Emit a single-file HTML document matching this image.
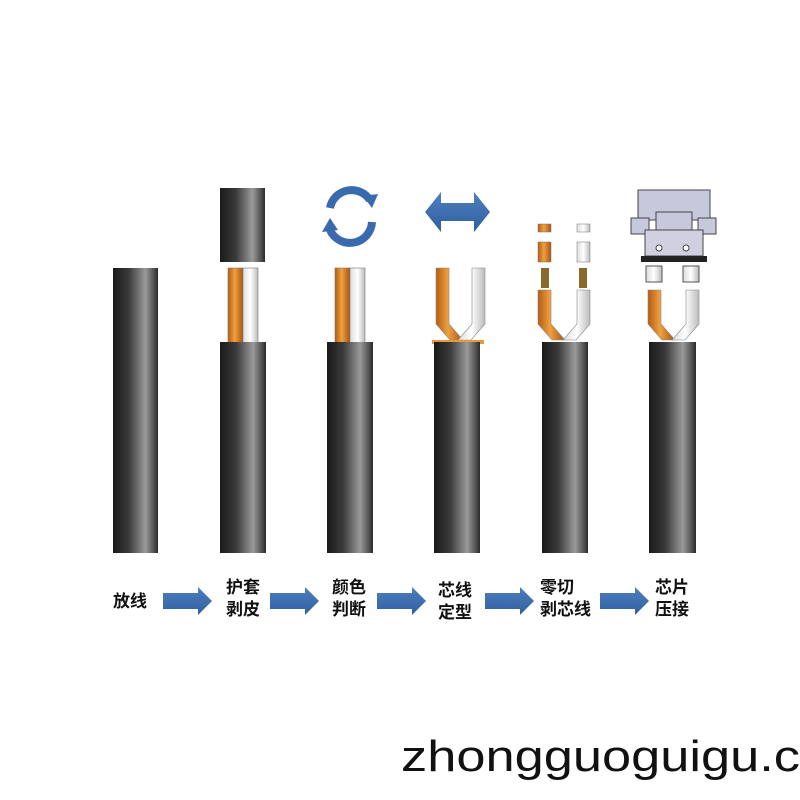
<!DOCTYPE html>
<html><head><meta charset="utf-8">
<style>
html,body{margin:0;padding:0;background:#fff;}
svg{display:block;}
.lbl{font-family:"Liberation Sans","Noto Sans CJK SC",sans-serif;font-weight:bold;font-size:17px;fill:#111;}
</style></head><body>
<svg width="800" height="800" viewBox="0 0 800 800" xmlns="http://www.w3.org/2000/svg">
<defs>
<linearGradient id="blk" x1="0" x2="1" y1="0" y2="0">
<stop offset="0" stop-color="#1a1a1a"/><stop offset="0.35" stop-color="#3a3a3a"/><stop offset="0.72" stop-color="#9a9a9a"/><stop offset="0.9" stop-color="#555"/><stop offset="1" stop-color="#2a2a2a"/>
</linearGradient>
<linearGradient id="org" x1="0" x2="1">
<stop offset="0" stop-color="#b45c10"/><stop offset="0.45" stop-color="#f0a040"/><stop offset="1" stop-color="#a85410"/>
</linearGradient>
<linearGradient id="wht" x1="0" x2="1">
<stop offset="0" stop-color="#ddd"/><stop offset="0.5" stop-color="#fff"/><stop offset="1" stop-color="#bbb"/>
</linearGradient>
<linearGradient id="blu" x1="0" x2="0" y1="0" y2="1">
<stop offset="0" stop-color="#4f7fbf"/><stop offset="1" stop-color="#2f5f9f"/>
</linearGradient>
</defs>

<rect x="113" y="268" width="45" height="285" fill="url(#blk)"/>

<rect x="220" y="188" width="45" height="74" fill="url(#blk)"/>
<rect x="228" y="268" width="15" height="76" fill="url(#org)" stroke="#777" stroke-width="0.6"/>
<rect x="243" y="268" width="15" height="76" fill="url(#wht)" stroke="#777" stroke-width="0.6"/>
<rect x="220" y="342" width="46" height="211" fill="url(#blk)"/>

<path d="M330 208 A22 22 0 0 1 370 200" fill="none" stroke="#3a6aae" stroke-width="8"/>
<polygon points="363,196 378,194 372,208" fill="#3a6aae"/>
<path d="M372 222 A22 22 0 0 1 330 230" fill="none" stroke="#3a6aae" stroke-width="8"/>
<polygon points="322,232 330,218 338,230" fill="#3a6aae"/>
<rect x="335" y="268" width="15" height="76" fill="url(#org)" stroke="#777" stroke-width="0.6"/>
<rect x="350" y="268" width="15" height="76" fill="url(#wht)" stroke="#777" stroke-width="0.6"/>
<rect x="327" y="342" width="46" height="211" fill="url(#blk)"/>

<polygon points="425,212 441,192 441,203 474,203 474,192 490,212 474,232 474,221 441,221 441,232" fill="url(#blu)"/>

<path d="M436 268 h13 v56 l14 16 h-13 l-14 -16 z" fill="url(#org)" stroke="#888" stroke-width="0.6"/>
<path d="M472 268 h13 v56 l-14 16 h-13 l14 -16 z" fill="url(#wht)" stroke="#888" stroke-width="0.6"/>
<rect x="432" y="340" width="52" height="4" fill="#e89a3a"/>
<rect x="434" y="342" width="46" height="211" fill="url(#blk)"/>

<rect x="538" y="224" width="13" height="8" fill="url(#org)" stroke="#777" stroke-width="0.5"/>
<rect x="577" y="224" width="13" height="8" fill="url(#wht)" stroke="#777" stroke-width="0.5"/>
<rect x="538" y="242" width="13" height="20" fill="url(#org)" stroke="#777" stroke-width="0.5"/>
<rect x="577" y="242" width="13" height="20" fill="url(#wht)" stroke="#777" stroke-width="0.5"/>
<rect x="541" y="268" width="8" height="20" fill="#8a6a2a"/>
<rect x="579" y="268" width="8" height="20" fill="#8a6a2a"/>
<path d="M538 290 h13 v34 l14 16 h-13 l-14 -16 z" fill="url(#org)" stroke="#888" stroke-width="0.6"/>
<path d="M577 290 h13 v34 l-14 16 h-13 l14 -16 z" fill="url(#wht)" stroke="#888" stroke-width="0.6"/>
<rect x="542" y="342" width="46" height="211" fill="url(#blk)"/>

<rect x="638" y="190" width="72" height="30" fill="#c8c8dc" stroke="#444" stroke-width="1"/>
<rect x="656" y="212" width="36" height="40" fill="#c8c8dc" stroke="#444" stroke-width="1"/>
<rect x="631" y="218" width="18" height="16" fill="#c8c8dc" stroke="#444"/>
<rect x="698" y="218" width="18" height="16" fill="#c8c8dc" stroke="#444"/>
<rect x="645" y="230" width="58" height="26" fill="#d0d0e0" stroke="#444"/>
<circle cx="659" cy="248" r="3" fill="#fff" stroke="#444"/>
<circle cx="686" cy="248" r="3" fill="#fff" stroke="#444"/>
<rect x="641" y="256" width="66" height="6" fill="#222"/>
<rect x="646" y="266" width="16" height="16" fill="url(#wht)" stroke="#555"/>
<rect x="683" y="266" width="16" height="16" fill="url(#wht)" stroke="#555"/>
<path d="M648 290 h13 v34 l14 16 h-13 l-14 -16 z" fill="url(#org)" stroke="#888" stroke-width="0.6"/>
<path d="M686 290 h13 v34 l-14 16 h-13 l14 -16 z" fill="url(#wht)" stroke="#888" stroke-width="0.6"/>
<rect x="649" y="342" width="47" height="211" fill="url(#blk)"/>

<text class="lbl" x="113" y="607">放线</text>
<text class="lbl" x="226" y="593">护套</text><text class="lbl" x="226" y="615">剥皮</text>
<text class="lbl" x="332" y="593">颜色</text><text class="lbl" x="332" y="615">判断</text>
<text class="lbl" x="438" y="596">芯线</text><text class="lbl" x="438" y="618">定型</text>
<text class="lbl" x="540" y="593">零切</text><text class="lbl" x="540" y="615">剥芯线</text>
<text class="lbl" x="655" y="593">芯片</text><text class="lbl" x="655" y="615">压接</text>

<g fill="url(#blu)">
<polygon points="163,593 198,593 198,587 212,601 198,615 198,609 163,609"/>
<polygon points="270,593 305,593 305,587 319,601 305,615 305,609 270,609"/>
<polygon points="377,593 412,593 412,587 426,601 412,615 412,609 377,609"/>
<polygon points="485,593 520,593 520,587 534,601 520,615 520,609 485,609"/>
<polygon points="600,593 635,593 635,587 649,601 635,615 635,609 600,609"/>
</g>

<text x="401" y="771" font-family="Liberation Sans, sans-serif" font-size="44" fill="#111" textLength="399" lengthAdjust="spacingAndGlyphs">zhongguoguigu.c</text>
</svg>
</body></html>
